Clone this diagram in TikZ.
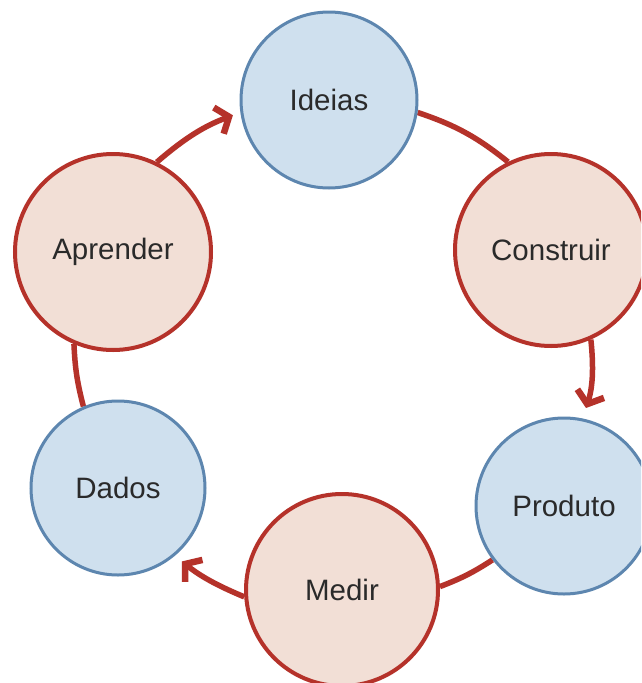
\documentclass[tikz,border=0pt]{standalone}
\usepackage{fontspec}
\setmainfont{Liberation Sans}
\usetikzlibrary{arrows.meta,backgrounds}
\definecolor{redline}{HTML}{B5322A}
\definecolor{redfill}{HTML}{F2DFD6}
\definecolor{blueline}{HTML}{5D86AF}
\definecolor{bluefill}{HTML}{CFE0EE}
\definecolor{txt}{HTML}{2A2A2A}
\tikzset{
  redc/.style={circle, draw=redline, fill=redfill, line width=4pt, inner sep=0pt, text=txt, font=\fontsize{29.5}{33}\selectfont},
  bluec/.style={circle, draw=blueline, fill=bluefill, line width=3pt, inner sep=0pt, text=txt, font=\fontsize{29.5}{33}\selectfont},
  conn/.style={draw=redline, line width=5.5pt},
  arr/.style={conn, -{Straight Barb[length=11pt,width=28pt,line width=6.5pt]}}
}
\begin{document}
\begin{tikzpicture}[x=1pt,y=-1pt]
\useasboundingbox (0,0) rectangle (641,683);
\clip (0,0) rectangle (641,683);
\node[bluec, minimum size=176pt] (ideias) at (329,100) {Ideias};
\node[redc, minimum size=192pt] (construir) at (551,250) {Construir};
\node[bluec, minimum size=176pt] (produto) at (564,506) {Produto};
\node[redc, minimum size=192pt] (medir) at (342,590) {Medir};
\node[bluec, minimum size=174pt] (dados) at (118,488) {Dados};
\node[redc, minimum size=196pt] (aprender) at (113,252) {Aprender};
\begin{pgfonlayer}{background}
\fill[white] (0,0) rectangle (641,683);
\draw[arr, shorten >=8pt] (aprender.64) to[bend left=10] (ideias.188);
\draw[conn] (ideias.-8) to[bend left=10] (construir.116);
\draw[arr, shorten >=11pt] (construir.-66) to[bend left=12] (produto.78);
\draw[conn] (produto.217) to[bend left=6] (medir.2);
\draw[arr, shorten >=9pt] (medir.184) to[bend left=8] (dados.-50);
\draw[conn] (dados.113) to[bend left=6] (aprender.247);
\end{pgfonlayer}
\end{tikzpicture}
\end{document}
